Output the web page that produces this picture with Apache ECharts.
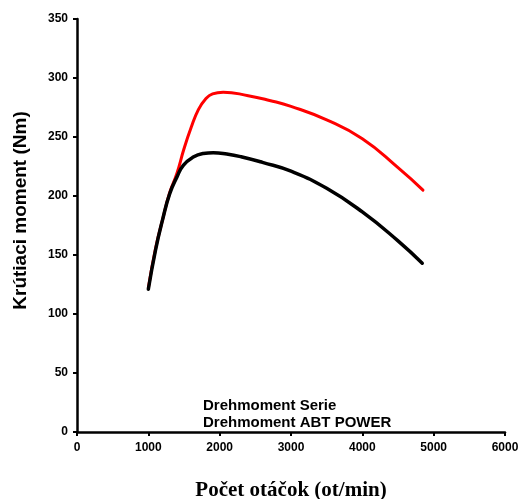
<!DOCTYPE html>
<html>
<head>
<meta charset="utf-8">
<script src="https://cdn.jsdelivr.net/npm/echarts@6/dist/echarts.min.js"></script>
<style>
html,body{margin:0;padding:0;background:#fff;}
#chart{width:520px;height:499px;}
</style>
</head>
<body>
<div id="chart"></div>
<script>
var serieNames = ['Drehmoment Serie', 'Drehmoment ABT POWER'];
var serieRpm = [1000, 1100, 1200, 1300, 1400, 1490, 1630, 1770, 1910, 2100, 2300, 2600, 3000, 3500, 4000, 4500, 4840];
var serieTorque = [121, 154, 180, 202, 216, 226, 233, 236, 236.7, 235.6, 233.3, 228.5, 221, 206.5, 186.5, 162, 143];
var abtRpm = [1000, 1100, 1200, 1300, 1400, 1500, 1600, 1700, 1800, 1900, 2050, 2400, 2700, 3000, 3500, 4000, 4500, 4850];
var abtTorque = [122, 155, 180, 203, 219, 240, 258, 273, 282, 286.5, 288, 285, 281, 276, 264.5, 248.5, 224, 205];
var xTitle = 'Počet otáčok (ot/min)';
var yTitle = 'Krútiaci moment (Nm)';

function pairs(xs, ys) { return xs.map(function (x, i) { return [x, ys[i]]; }); }

var chart = echarts.init(document.getElementById('chart'));
chart.setOption({
  animation: false,
  backgroundColor: '#fff',
  grid: { left: 77, right: 15, top: 19, bottom: 67, containLabel: false, outerBoundsMode: 'none' },
  legend: {
    orient: 'vertical',
    left: 193,
    top: 393,
    icon: 'rect',
    itemWidth: 0,
    itemHeight: 0,
    itemGap: 2,
    data: serieNames,
    textStyle: { color: '#000', fontFamily: 'Liberation Sans, Arial, sans-serif', fontWeight: 'bold', fontSize: 15 }
  },
  xAxis: {
    type: 'value', min: 0, max: 6000, interval: 1000,
    name: xTitle, nameLocation: 'middle', nameGap: 48,
    nameTextStyle: { color: '#000', fontFamily: 'Liberation Serif, Times New Roman, serif', fontWeight: 'bold', fontSize: 21 },
    axisLine: { onZero: false, lineStyle: { color: '#000', width: 2.5 } },
    axisTick: { show: true, inside: false, length: 4, lineStyle: { color: '#000', width: 2 } },
    axisLabel: { color: '#000', fontFamily: 'Liberation Sans, Arial, sans-serif', fontWeight: 'bold', fontSize: 12, margin: 10,
      formatter: function (v) { return String(v); } },
    splitLine: { show: false }
  },
  yAxis: {
    type: 'value', min: 0, max: 350, interval: 50,
    name: yTitle, nameLocation: 'middle', nameGap: 47,
    nameTextStyle: { color: '#000', fontFamily: 'Liberation Sans, Arial, sans-serif', fontWeight: 'bold', fontSize: 19, padding: [0, 0, 0, 30] },
    axisLine: { show: true, onZero: false, lineStyle: { color: '#000', width: 2.5 } },
    axisTick: { show: true, inside: false, length: 4, lineStyle: { color: '#000', width: 2 } },
    axisLabel: { color: '#000', fontFamily: 'Liberation Sans, Arial, sans-serif', fontWeight: 'bold', fontSize: 12, margin: 9,
      formatter: function (v) { return String(v); } },
    splitLine: { show: false }
  },
  series: [
    {
      name: serieNames[1], type: 'line', data: pairs(abtRpm, abtTorque),
      smooth: 0.5, showSymbol: false, symbol: 'none',
      color: '#ff0000',
      lineStyle: { color: '#ff0000', width: 3, cap: 'round' }, z: 2
    },
    {
      name: serieNames[0], type: 'line', data: pairs(serieRpm, serieTorque),
      smooth: 0.5, showSymbol: false, symbol: 'none',
      color: '#000',
      lineStyle: { color: '#000', width: 3.5, cap: 'round' }, z: 3
    }
  ]
});
</script>
</body>
</html>
